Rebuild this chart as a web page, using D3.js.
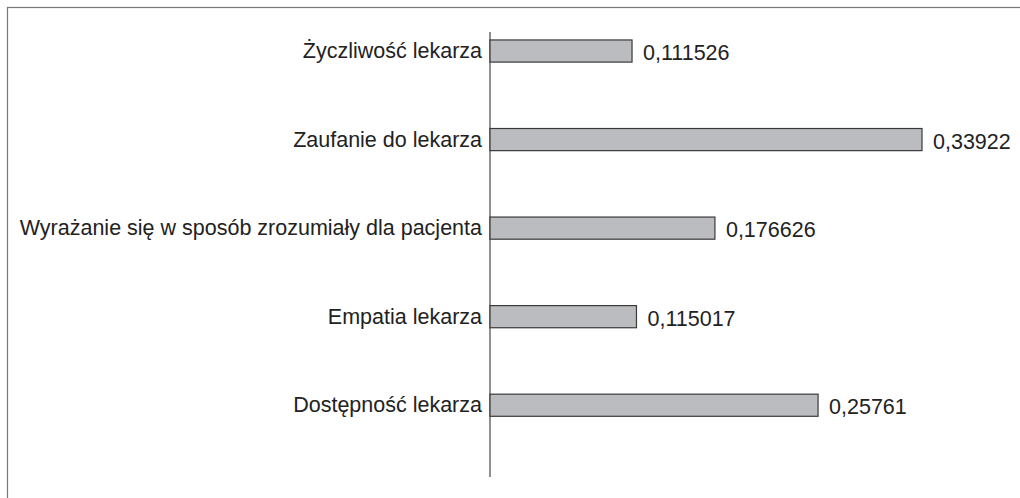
<!DOCTYPE html>
<html><head><meta charset="utf-8">
<script src="https://cdn.jsdelivr.net/npm/d3@7"></script>
<style>body{margin:0;background:#fff}svg{display:block}</style>
</head><body>
<svg id="c" width="1020" height="498"></svg>
<script>
const categories = ["Życzliwość lekarza","Zaufanie do lekarza","Wyrażanie się w sposób zrozumiały dla pacjenta","Empatia lekarza","Dostępność lekarza"];
const values = [0.111526, 0.33922, 0.176626, 0.115017, 0.25761];
const valueLabels = ["0,111526","0,33922","0,176626","0,115017","0,25761"];

const svg = d3.select("#c");
const font = "'Liberation Sans', Arial, sans-serif";
// frame
svg.append("rect").attr("x",7.5).attr("y",7.5).attr("width",1100).attr("height",600)
  .attr("fill","none").attr("stroke","#777").attr("stroke-width",1.2);

const x0 = 490;
const x = d3.scaleLinear().domain([0, 0.33922]).range([x0, 922]);
const y = d3.scaleBand().domain(categories).range([6.75, 449.5]).paddingInner(0.75).paddingOuter(0.375);

// axis line
svg.append("line").attr("x1",x0).attr("x2",x0).attr("y1",32).attr("y2",477)
  .attr("stroke","#555").attr("stroke-width",1.3);

svg.selectAll("rect.bar").data(values).join("rect").attr("class","bar")
  .attr("x", x(0)).attr("y",(d,i)=>y(categories[i]))
  .attr("width", d=>x(d)-x(0)).attr("height", y.bandwidth())
  .attr("fill","#bbbcbf").attr("stroke","#3a3a3a").attr("stroke-width",1.2);

svg.selectAll("text.cat").data(categories).join("text").attr("class","cat")
  .attr("x", x0-8).attr("y", d=>y(d)+y.bandwidth()/2+7)
  .attr("text-anchor","end").attr("font-family",font).attr("font-size",21.5).attr("fill","#222")
  .text(d=>d);

svg.selectAll("text.val").data(values).join("text").attr("class","val")
  .attr("x", d=>x(d)+11).attr("y",(d,i)=>y(categories[i])+y.bandwidth()/2+9)
  .attr("font-family",font).attr("font-size",21.5).attr("fill","#222")
  .text((d,i)=>valueLabels[i]);
</script>
</body></html>
